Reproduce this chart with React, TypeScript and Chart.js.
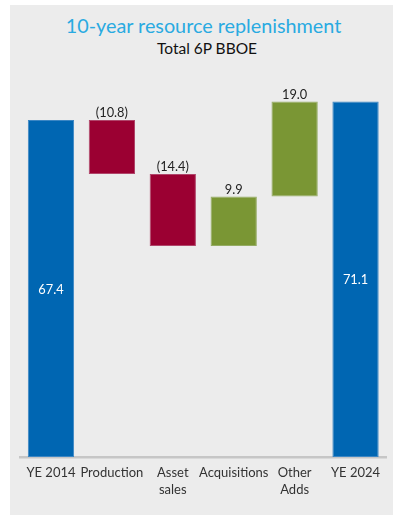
import React, { useEffect, useRef } from "react";
import { Chart, registerables } from "chart.js";

Chart.register(...registerables);

const categories: (string | string[])[] = ["YE 2014", "Production", ["Asset", "sales"], "Acquisitions", ["Other", "Adds"], "YE 2024"];
const changes: number[] = [67.4, -10.8, -14.4, 9.9, 19.0, 71.1];
const isTotal: boolean[] = [true, false, false, false, false, true];
const labels: string[] = ["67.4", "(10.8)", "(14.4)", "9.9", "19.0", "71.1"];

const BLUE = "#0066b2";
const RED = "#9b0032";
const GREEN = "#7a9634";

export default function App() {
  const ref = useRef<HTMLCanvasElement>(null);
  useEffect(() => {
    if (!ref.current) return;
    let running = 0;
    const ranges: [number, number][] = changes.map((v, i) => {
      if (isTotal[i]) {
        running = v;
        return [0, v];
      }
      const start = running;
      running = running + v;
      return [start, running];
    });
    const colors = changes.map((v, i) => (isTotal[i] ? BLUE : v < 0 ? RED : GREEN));
    const borders = changes.map((v, i) => (isTotal[i] ? "#3b86c4" : v < 0 ? "#b0456a" : "#94ab63"));

    const labelPlugin = {
      id: "wfLabels",
      afterDatasetsDraw(chart: any) {
        const ctx = chart.ctx;
        const meta = chart.getDatasetMeta(0);
        ctx.save();
        ctx.textAlign = "center";
        meta.data.forEach((bar: any, i: number) => {
          const { x, y, base } = bar.getProps(["x", "y", "base"], true);
          ctx.font = "12.8px Lato";
          if (isTotal[i]) {
            ctx.fillStyle = "#ffffff";
            ctx.textBaseline = "middle";
            ctx.fillText(labels[i], x, (y + base) / 2 + 1);
          } else {
            ctx.fillStyle = "#222222";
            ctx.textBaseline = "alphabetic";
            ctx.fillText(labels[i], x, Math.min(y, base) - 3);
          }
        });
        ctx.restore();
      },
    };

    const chart = new Chart(ref.current, {
      type: "bar",
      data: {
        labels: categories,
        datasets: [
          {
            data: ranges as any,
            backgroundColor: colors,
            borderColor: borders,
            borderWidth: 1,
            borderSkipped: false,
            barPercentage: 0.76,
            categoryPercentage: 1,
          },
        ],
      },
      options: {
        animation: false,
        responsive: false,
        maintainAspectRatio: false,
        layout: { padding: { left: 20.5, right: 7, top: 77, bottom: 0 } },
        plugins: { legend: { display: false }, tooltip: { enabled: false } },
        scales: {
          x: {
            grid: { display: false },
            border: { display: true, color: "#c6c6c6", width: 2.5 },
            ticks: {
              color: "#333333",
              font: { family: "Lato", size: 13, lineHeight: 1.27 },
              padding: 0,
              maxRotation: 0,
              autoSkip: false,
            },
            afterFit: (axis: any) => {
              axis.height = 515 - 457;
            },
          },
          y: {
            display: false,
            min: 0,
            max: 76,
          },
        },
      },
      plugins: [labelPlugin],
    });
    return () => chart.destroy();
  }, []);

  return (
    <div style={{ position: "absolute", left: 0, top: 0, width: 393, height: 515, background: "#ffffff", overflow: "hidden" }}>
      <div style={{ position: "absolute", left: 10, top: 5, width: 383, height: 510, background: "#ececec" }} />
      <div
        style={{
          position: "absolute",
          left: 10,
          top: 13,
          width: 387,
          textAlign: "center",
          fontFamily: "Lato",
          fontSize: 19.8,
          color: "#29aae1",
          lineHeight: "24px",
          whiteSpace: "nowrap",
        }}
      >
        10-year resource replenishment
      </div>
      <div
        style={{
          position: "absolute",
          left: 10,
          top: 38,
          width: 394,
          textAlign: "center",
          fontFamily: "Lato",
          fontSize: 15.5,
          color: "#111111",
          lineHeight: "20px",
          whiteSpace: "nowrap",
        }}
      >
        Total 6P BBOE
      </div>
      <canvas ref={ref} width={393} height={515} style={{ position: "absolute", left: 0, top: 0 }} />
    </div>
  );
}
